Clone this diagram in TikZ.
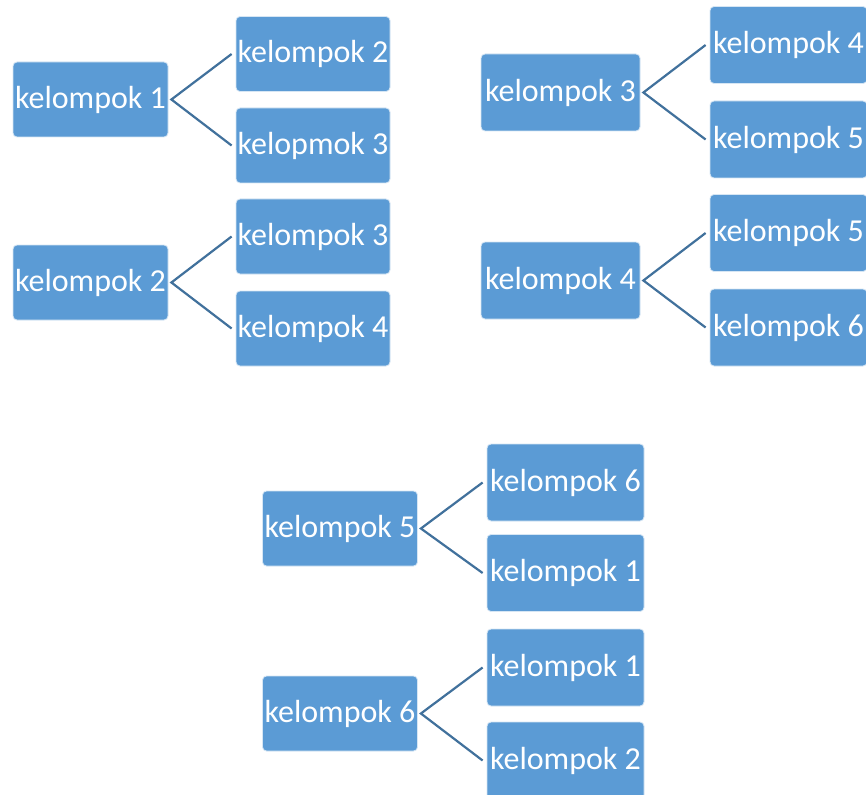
\documentclass[tikz,border=0pt]{standalone}
\usepackage{fontspec}
\setmainfont{Carlito}
\definecolor{boxblue}{HTML}{5B9BD5}
\definecolor{linkblue}{HTML}{41719C}
\tikzset{
  kbox/.style={rectangle, rounded corners=4pt, fill=boxblue, draw=white!75!boxblue, line width=0.8pt,
    text=white, inner sep=0pt, font=\fontsize{32}{32}\selectfont, anchor=center},
  rootbox/.style={kbox, minimum width=155pt, minimum height=75pt},
  rootboxw/.style={kbox, minimum width=159pt, minimum height=77pt},
  childbox/.style={kbox, minimum width=154pt, minimum height=75pt},
  childboxw/.style={kbox, minimum width=157pt, minimum height=77pt},
  link/.style={draw=linkblue, line width=2.2pt}
}
\begin{document}
\begin{tikzpicture}[x=1pt,y=-1pt]
\useasboundingbox (0,0) rectangle (866,794);
\clip (0,0) rectangle (866,794);
\fill[white] (0,0) rectangle (866,794);
% group 1
\node[rootbox] (r1) at (90.5,99.5) {kelompok 1};
\node[childbox] (c1a) at (313,54) {kelompok 2};
\node[childbox] (c1b) at (313,145.5) {kelopmok 3};
% group 2
\node[rootbox] (r2) at (90.5,282.5) {kelompok 2};
\node[childbox] (c2a) at (313,236.5) {kelompok 3};
\node[childbox] (c2b) at (313,328.5) {kelompok 4};
% group 3
\node[rootboxw] (r3) at (560.5,92.5) {kelompok 3};
\node[childboxw] (c3a) at (788.5,45) {kelompok 4};
\node[childboxw] (c3b) at (788.5,139.5) {kelompok 5};
% group 4
\node[rootboxw] (r4) at (560.5,280.5) {kelompok 4};
\node[childboxw] (c4a) at (788.5,233) {kelompok 5};
\node[childboxw] (c4b) at (788.5,327.5) {kelompok 6};
% group 5
\node[rootbox] (r5) at (340,528.5) {kelompok 5};
\node[childboxw] (c5a) at (565.5,482.5) {kelompok 6};
\node[childboxw] (c5b) at (565.5,573) {kelompok 1};
% group 6
\node[rootbox] (r6) at (340,713.5) {kelompok 6};
\node[childboxw] (c6a) at (565.5,667.5) {kelompok 1};
\node[childboxw] (c6b) at (565.5,760.5) {kelompok 2};
% connectors
\foreach \r/\a/\b in {r1/c1a/c1b, r2/c2a/c2b, r3/c3a/c3b, r4/c4a/c4b, r5/c5a/c5b, r6/c6a/c6b}{
  \draw[link, line join=miter] ([xshift=-4pt]\a.west) -- ([xshift=3pt]\r.east) -- ([xshift=-4pt]\b.west);
}
\end{tikzpicture}
\end{document}
